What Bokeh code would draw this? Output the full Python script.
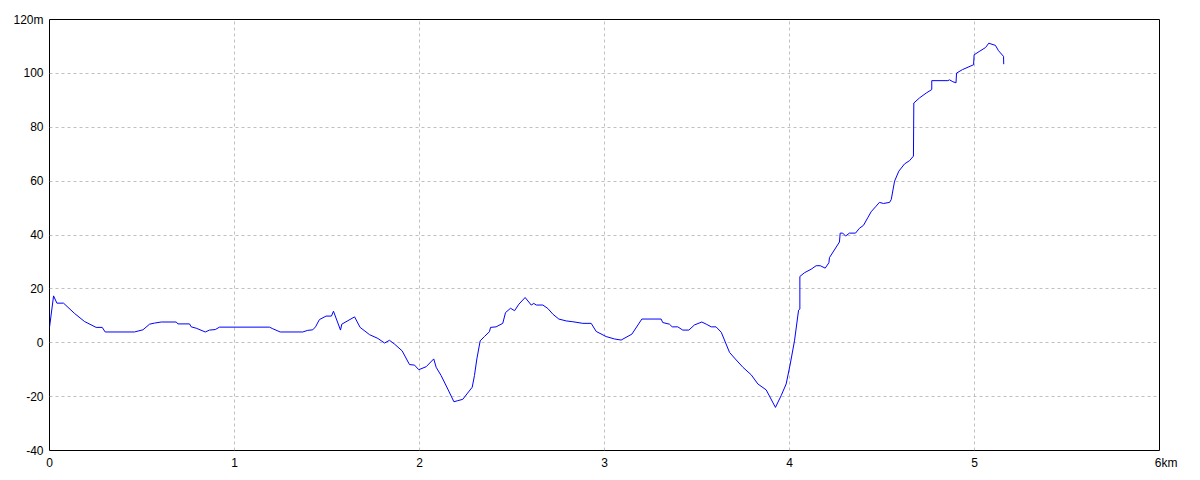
from bokeh.plotting import figure
from bokeh.models import Range1d, FixedTicker
from bokeh.embed import file_html
from bokeh.resources import INLINE

dist_km = [0.0, 0.022, 0.04, 0.076, 0.135, 0.189, 0.252, 0.285, 0.301, 0.459,
           0.505, 0.541, 0.568, 0.604, 0.685, 0.694, 0.757, 0.766, 0.793, 0.842,
           0.865, 0.896, 0.919, 1.189, 1.207, 1.247, 1.369, 1.396, 1.423, 1.438,
           1.459, 1.495, 1.524, 1.535, 1.573, 1.580, 1.649, 1.679, 1.730, 1.775,
           1.811, 1.838, 1.865, 1.906, 1.946, 1.973, 1.996, 2.036, 2.077, 2.090,
           2.117, 2.153, 2.186, 2.207, 2.234, 2.252, 2.285, 2.297, 2.310, 2.328,
           2.351, 2.378, 2.384, 2.414, 2.450, 2.465, 2.492, 2.514, 2.537, 2.571,
           2.604, 2.618, 2.631, 2.667, 2.694, 2.721, 2.753, 2.793, 2.829, 2.883,
           2.928, 2.955, 3.009, 3.054, 3.090, 3.148, 3.202, 3.306, 3.315, 3.351,
           3.366, 3.396, 3.423, 3.456, 3.486, 3.526, 3.550, 3.577, 3.603, 3.631,
           3.676, 3.712, 3.748, 3.793, 3.829, 3.874, 3.924, 3.955, 3.982, 4.004,
           4.027, 4.049, 4.056, 4.056, 4.081, 4.117, 4.144, 4.166, 4.193, 4.213,
           4.216, 4.270, 4.274, 4.288, 4.303, 4.324, 4.357, 4.378, 4.400, 4.423,
           4.441, 4.468, 4.486, 4.508, 4.541, 4.550, 4.568, 4.591, 4.622, 4.649,
           4.670, 4.672, 4.703, 4.739, 4.769, 4.769, 4.856, 4.865, 4.883, 4.900,
           4.903, 4.935, 4.995, 4.998, 5.025, 5.060, 5.077, 5.113, 5.130, 5.157,
           5.158]

elev_m = [5.7, 17.4, 14.7, 14.7, 10.9, 7.9, 5.7, 5.7, 4.0, 4.0,
          4.8, 6.9, 7.3, 7.7, 7.7, 7.0, 7.0, 5.9, 5.4, 4.0,
          4.7, 4.9, 5.8, 5.8, 5.2, 4.0, 4.0, 4.6, 4.8, 5.9,
          8.6, 9.9, 9.9, 11.7, 4.7, 6.9, 9.6, 5.7, 3.0, 1.6,
          -0.1, 0.9, -0.5, -3.0, -8.1, -8.3, -10.0, -8.9, -6.0, -9.1,
          -12.2, -17.2, -21.9, -21.5, -21.0, -19.4, -16.5, -12.2, -6.0, 0.7,
          2.3, 4.1, 5.7, 5.9, 7.2, 11.2, 12.8, 11.9, 14.3, 16.8,
          14.0, 14.6, 14.0, 14.0, 12.7, 10.6, 8.8, 8.1, 7.8, 7.2,
          7.2, 4.2, 2.3, 1.4, 1.0, 3.2, 8.8, 8.8, 7.5, 6.9,
          5.9, 5.9, 4.7, 4.7, 6.6, 7.7, 6.9, 5.9, 5.9, 3.9,
          -3.6, -6.4, -9.1, -11.9, -15.3, -17.5, -24.0, -19.6, -15.3, -7.9,
          0.7, 12.1, 12.5, 24.6, 26.0, 27.3, 28.6, 28.6, 27.7, 29.7,
          31.6, 37.4, 40.7, 40.7, 39.6, 40.7, 40.7, 42.5, 43.6, 46.4,
          48.6, 50.7, 52.1, 51.7, 52.1, 53.2, 60.0, 63.7, 66.4, 67.6,
          69.3, 89.0, 90.9, 92.7, 94.0, 97.3, 97.3, 97.6, 96.9, 96.5,
          100.1, 101.4, 103.2, 106.9, 108.1, 109.6, 111.2, 110.4, 108.4, 106.3,
          103.4]

x_ticks = [0, 1, 2, 3, 4, 5, 6]
x_labels = {0: "0", 1: "1", 2: "2", 3: "3", 4: "4", 5: "5",
            6: "\u00a0\u00a0\u00a0\u00a06km"}
y_ticks = [-40, -20, 0, 20, 40, 60, 80, 100, 120]
y_labels = {-40: "-40", -20: "-20", 0: "0", 20: "20", 40: "40", 60: "60",
            80: "80", 100: "100", 120: "120m"}

FONT = "Liberation Sans"

p = figure(frame_width=1110, frame_height=431,
           min_border_left=49, min_border_right=25, min_border_top=19, min_border_bottom=20,
           x_range=Range1d(0, 6), y_range=Range1d(-40, 120),
           output_backend="svg", toolbar_location=None,
           background_fill_color="white", border_fill_color="white")

p.outline_line_color = "black"
p.outline_line_width = 1
p.outline_line_alpha = 1.0

for ax in (p.xaxis[0], p.yaxis[0]):
    ax.axis_line_color = None
    ax.major_tick_line_color = None
    ax.minor_tick_line_color = None
    ax.major_tick_out = 0
    ax.major_tick_in = 0
    ax.major_label_text_font = FONT
    ax.major_label_text_font_size = "12px"
    ax.major_label_text_color = "black"

p.xaxis[0].ticker = FixedTicker(ticks=x_ticks)
p.xaxis[0].major_label_overrides = x_labels
p.xaxis[0].major_label_standoff = 5
p.yaxis[0].ticker = FixedTicker(ticks=y_ticks)
p.yaxis[0].major_label_overrides = y_labels
p.yaxis[0].major_label_standoff = 6

p.xgrid[0].ticker = FixedTicker(ticks=[1, 2, 3, 4, 5])
p.ygrid[0].ticker = FixedTicker(ticks=[-20, 0, 20, 40, 60, 80, 100])
for g in (p.xgrid[0], p.ygrid[0]):
    g.grid_line_color = "#c0c0c0"
    g.grid_line_dash = "3 3"
    g.grid_line_width = 1

p.line(dist_km, elev_m, line_color="#0000ff", line_width=1)

open("out.html", "w").write(file_html(p, INLINE))
